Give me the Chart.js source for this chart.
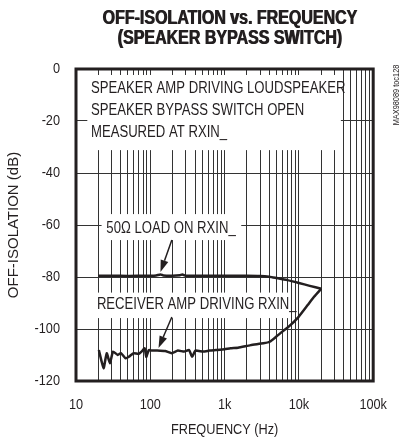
<!DOCTYPE html>
<html>
<head>
<meta charset="utf-8">
<script src="https://cdn.jsdelivr.net/npm/chart.js@4.4.0/dist/chart.umd.min.js"></script>
<style>
  html, body { margin: 0; padding: 0; background: #fff; }
  #wrap { width: 404px; height: 439px; }
</style>
</head>
<body>
<div id="wrap"><canvas id="c" width="404" height="439"></canvas></div>
<script>
const FONT = "'Liberation Sans', Arial, sans-serif";
const INK = '#231f20';

// Text
const titleLines = ['OFF-ISOLATION vs. FREQUENCY', '(SPEAKER BYPASS SWITCH)'];
const xTitle = 'FREQUENCY (Hz)';
const yTitle = 'OFF-ISOLATION (dB)';
const partTag = 'MAX98089 toc128';

// Axis ticks
const yTicks = [0, -20, -40, -60, -80, -100, -120];
const xDecades = [10, 100, 1000, 10000, 100000];
const xDecadeLabels = ['10', '100', '1k', '10k', '100k'];

// 50 ohm load on RXIN_
const loadFreq = [20, 30, 50, 80, 100, 120, 137, 150, 200, 250, 270, 300, 500, 1000, 2000, 3000, 4000, 5000, 7000, 10000, 14000, 20000];
const loadDb   = [-79.5, -79.5, -79.6, -79.5, -79.5, -79.4, -79.0, -79.4, -79.5, -79.3, -79.0, -79.5, -79.5, -79.5, -79.5, -79.6, -79.9, -80.4, -81.2, -82.3, -83.4, -84.5];

// Receiver amp driving RXIN_
const rcvFreq = [20.3, 23.5, 25.9, 28.6, 31.5, 36.5, 40.2, 46.6, 51.5, 59.7, 69.2, 76.2, 84, 88.2, 95.5, 105, 124, 159, 194, 235, 286, 332, 366, 404, 515, 628, 763, 1000, 1200, 1517, 2244, 3318, 4044, 4929, 5988, 7290, 9780, 13120, 15990, 20000];
const rcvDb   = [-108.1, -115.1, -109.3, -113.2, -108.7, -110.0, -109.3, -111.3, -110.7, -109.3, -109.6, -108.7, -107.4, -110.7, -108.1, -108.3, -108.3, -108.5, -109.3, -108.3, -108.7, -108.1, -110.7, -108.3, -108.7, -108.3, -108.1, -107.8, -107.4, -107.2, -106.2, -105.5, -104.9, -103.0, -101.0, -99.1, -95.5, -90.8, -87.6, -84.5];

// Text boxes (white background) in data coordinates: [freq, dB]
const notes = [
  { box: [14.2, -2.3, 36700, -31.2], at: [15.9, -7.7], lines: ['SPEAKER AMP DRIVING LOUDSPEAKER', 'SPEAKER BYPASS SWITCH OPEN', 'MEASURED AT RXIN_'], step: -8.3 },
  { box: [22.1, -55.8, 1675, -65.8], at: [25.6, -61.2], lines: ['50\u03A9 LOAD ON RXIN_'], step: 0 },
  { box: [16.5, -86.0, 7720, -95.8], at: [19.1, -90.6], lines: ['RECEIVER AMP DRIVING RXIN_'], step: 0 }
];
// Arrows: [fromFreq, fromDb, toFreq, toDb]
const arrows = [
  [195, -65.8, 137, -78.1],
  [195, -95.4, 129, -107.3]
];

// Condensed lettering: every fillText is squeezed horizontally around its anchor.
let textScale = 0.82;
const proto = CanvasRenderingContext2D.prototype;
const baseFillText = proto.fillText;
proto.fillText = function (text, x, y, maxWidth) {
  if (textScale === 1) {
    return maxWidth === undefined ? baseFillText.call(this, text, x, y) : baseFillText.call(this, text, x, y, maxWidth);
  }
  this.save();
  this.translate(x, y);
  this.scale(textScale, 1);
  if (maxWidth === undefined) baseFillText.call(this, text, 0, 0);
  else baseFillText.call(this, text, 0, 0, maxWidth / textScale);
  this.restore();
};

const pts = (fs, ds) => fs.map((f, i) => ({ x: f, y: ds[i] }));

const decorations = {
  id: 'decorations',
  beforeDatasetsDraw(chart) {
    const { ctx, scales: { x, y } } = chart;
    ctx.save();
    ctx.font = '16px ' + FONT;
    ctx.textBaseline = 'middle';
    ctx.textAlign = 'left';
    for (const n of notes) {
      const x0 = x.getPixelForValue(n.box[0]), y0 = y.getPixelForValue(n.box[1]);
      const x1 = x.getPixelForValue(n.box[2]), y1 = y.getPixelForValue(n.box[3]);
      ctx.fillStyle = '#fff';
      ctx.fillRect(x0, y0, x1 - x0, y1 - y0);
      ctx.fillStyle = INK;
      n.lines.forEach((t, i) => {
        ctx.fillText(t, x.getPixelForValue(n.at[0]), y.getPixelForValue(n.at[1] + i * n.step));
      });
    }
    ctx.restore();
  },
  afterDatasetsDraw(chart) {
    const { ctx, chartArea: a, scales: { x, y } } = chart;
    ctx.save();
    // frame
    ctx.strokeStyle = INK;
    ctx.lineWidth = 3;
    ctx.strokeRect(a.left, a.top, a.right - a.left, a.bottom - a.top);
    // arrows
    ctx.fillStyle = INK;
    ctx.lineWidth = 1.5;
    for (const r of arrows) {
      const fx = x.getPixelForValue(r[0]), fy = y.getPixelForValue(r[1]);
      const tx = x.getPixelForValue(r[2]), ty = y.getPixelForValue(r[3]);
      const ang = Math.atan2(ty - fy, tx - fx);
      const len = 12, half = 4;
      const bx = tx - len * Math.cos(ang), by = ty - len * Math.sin(ang);
      ctx.beginPath();
      ctx.moveTo(fx, fy);
      ctx.lineTo(bx, by);
      ctx.stroke();
      ctx.beginPath();
      ctx.moveTo(tx, ty);
      ctx.lineTo(bx + half * Math.sin(ang), by - half * Math.cos(ang));
      ctx.lineTo(bx - half * Math.sin(ang), by + half * Math.cos(ang));
      ctx.closePath();
      ctx.fill();
    }
    ctx.restore();
  },
  afterDraw(chart) {
    const { ctx, chartArea: a } = chart;
    ctx.save();
    ctx.fillStyle = INK;
    ctx.textAlign = 'center';
    ctx.textBaseline = 'middle';
    // heavy title
    ctx.font = 'bold 19.5px ' + FONT;
    for (const dx of [0, 0.8]) {
      ctx.fillText(titleLines[0], 229.6 + dx, 19);
      ctx.fillText(titleLines[1], 229.6 + dx, 39);
    }
    // y-axis title, regular width
    textScale = 1;
    ctx.save();
    ctx.translate(14, (a.top + a.bottom) / 2);
    ctx.rotate(-Math.PI / 2);
    ctx.font = '15px ' + FONT;
    ctx.fillText(yTitle, 0, 0);
    ctx.restore();
    textScale = 0.82;
    // part tag
    ctx.translate(397, 95);
    ctx.rotate(-Math.PI / 2);
    ctx.font = '9px ' + FONT;
    ctx.fillText(partTag, 0, 0);
    ctx.restore();
  }
};

new Chart(document.getElementById('c'), {
  type: 'line',
  data: {
    datasets: [
      { data: pts(loadFreq, loadDb), borderColor: INK, borderWidth: 2.5, pointRadius: 0, tension: 0.2, fill: false },
      { data: pts(rcvFreq, rcvDb), borderColor: INK, borderWidth: 2.5, pointRadius: 0, tension: 0.15, fill: false }
    ]
  },
  options: {
    responsive: false,
    animation: false,
    layout: { padding: { top: 69, right: 15, left: 0, bottom: 0 } },
    plugins: { legend: { display: false }, tooltip: { enabled: false }, title: { display: false } },
    scales: {
      x: {
        type: 'logarithmic',
        min: 10, max: 100000,
        afterBuildTicks(s) {
          const t = [];
          for (let d = 10; d < 100000; d *= 10) for (let m = 1; m < 10; m++) t.push({ value: d * m });
          t.push({ value: 100000 });
          s.ticks = t;
        },
        afterFit(s) { s.height = 58; },
        ticks: {
          autoSkip: false, maxRotation: 0, padding: 14, color: INK,
          font: { family: FONT, size: 15.5 },
          callback: (v) => { const i = xDecades.indexOf(v); return i >= 0 ? xDecadeLabels[i] : ''; }
        },
        grid: { color: '#333', lineWidth: 1, drawTicks: false },
        border: { display: false },
        title: { display: true, text: xTitle, color: INK, font: { family: FONT, size: 15.5 }, padding: { top: 0, bottom: 0 } }
      },
      y: {
        type: 'linear',
        min: -120, max: 0,
        afterBuildTicks(s) { s.ticks = yTicks.map(v => ({ value: v })); },
        afterFit(s) { s.width = 76; },
        ticks: { padding: 16, color: INK, font: { family: FONT, size: 15.5 } },
        grid: { color: '#333', lineWidth: 1, drawTicks: false },
        border: { display: false },
        title: { display: false }
      }
    }
  },
  plugins: [decorations]
});
</script>
</body>
</html>
